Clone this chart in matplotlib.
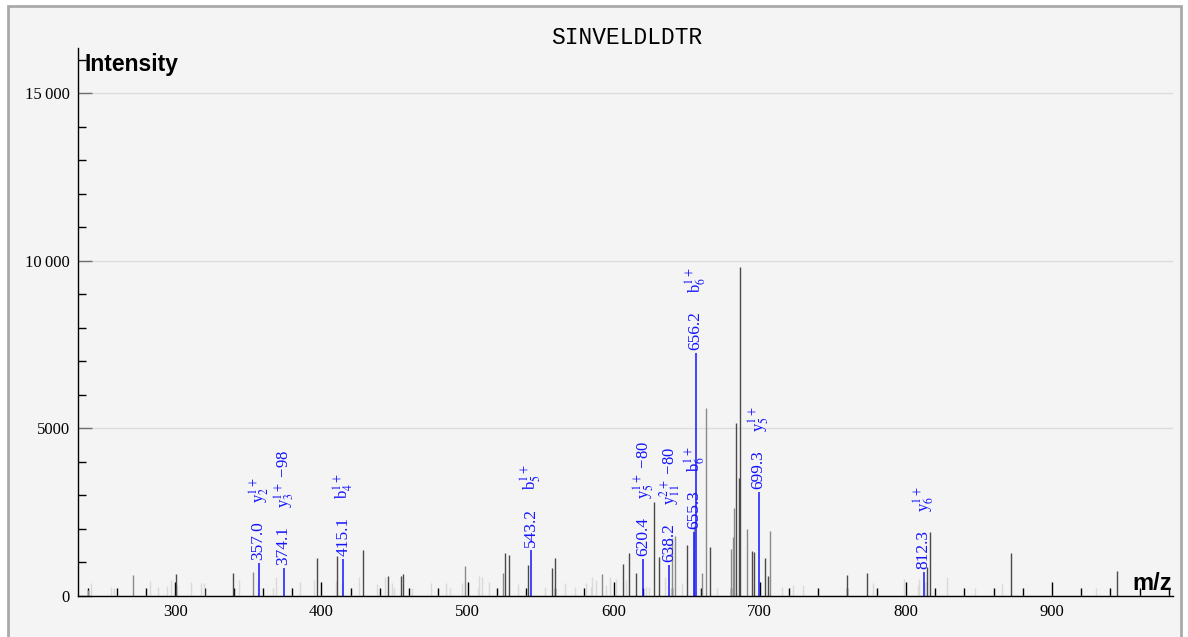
import numpy as np
import matplotlib
matplotlib.use('Agg')
import matplotlib.pyplot as plt
from matplotlib.patches import Rectangle
from matplotlib.ticker import MultipleLocator, FixedLocator

plt.rcParams['font.family'] = ['Liberation Serif', 'DejaVu Serif']
plt.rcParams['mathtext.fontset'] = 'stix'

# peaks (m/z, intensity)
dark_mz = [300.2, 339.2, 397.3, 410.9, 428.3, 445.5, 454.3, 456.1, 525.5, 528.3,
           541.1, 557.9, 559.7, 606.4, 610.8, 615.6, 627.9, 631.0, 650.2, 665.9,
           684.0, 685.6, 686.5, 694.6, 696.4, 703.8, 705.6, 759.7, 773.4, 814.2,
           816.5, 872.3, 944.3]
dark_int = [660, 680, 1140, 1190, 1370, 600, 600, 650, 1270, 1220,
            925, 825, 1125, 955, 1270, 680, 2800, 1155, 1520, 1470,
            5150, 3510, 9810, 1340, 1300, 1120, 600, 630, 700, 855,
            1900, 1270, 750]

mid_mz = [240.5, 271.3, 353.1, 498.0, 524.4, 591.9, 640.2, 641.8, 654.8, 660.5,
          663.4, 680.3, 681.7, 682.4, 691.5, 706.7]
mid_int = [180, 620, 730, 895, 680, 660, 1720, 1790, 2100, 700,
           5600, 1400, 1750, 2640, 1990, 1940]

light_mz = [242.0, 256.0, 258.0, 283.0, 288.4, 294.0, 297.0, 301.0, 311.0, 317.3,
            319.8, 343.3, 356.3, 367.2, 369.0, 385.0, 395.0, 410.0, 413.9, 426.0,
            437.9, 443.8, 448.0, 449.9, 461.8, 474.8, 485.0, 488.0, 496.0, 507.0,
            508.0, 509.6, 514.8, 534.6, 552.7, 566.6, 573.4, 581.4, 584.2, 585.0,
            587.8, 595.1, 597.8, 601.4, 608.7, 622.4, 624.2, 634.9, 647.0, 671.0,
            715.4, 722.6, 729.4, 777.3, 799.0, 808.1, 809.2, 813.1, 828.2, 847.3,
            865.7, 930.0]
light_int = [400, 280, 250, 450, 270, 300, 480, 330, 410, 400,
             400, 480, 430, 230, 560, 410, 480, 440, 380, 570,
             360, 570, 380, 250, 230, 380, 400, 230, 400, 230,
             600, 560, 420, 350, 280, 380, 280, 380, 280, 560,
             480, 330, 580, 500, 480, 280, 260, 580, 400, 250,
             280, 330, 330, 400, 500, 330, 500, 430, 560, 230,
             360, 230]

ion_mz = [357.0, 374.1, 415.1, 543.2, 620.4, 638.2, 655.3, 656.2, 699.3, 812.3]
ion_int = [990, 830, 1100, 1380, 1100, 930, 1900, 7260, 3110, 730]
ion_labels = ['y$_2^{1+}$', 'y$_3^{1+}$ \u221298', 'b$_4^{1+}$', 'b$_5^{1+}$',
              'y$_5^{1+}$ \u221280', 'y$_{11}^{2+}$ \u221280', 'b$_6^{1+}$',
              'b$_6^{1+}$', 'y$_5^{1+}$', 'y$_6^{1+}$']

W, H = 1188, 637
fig = plt.figure(figsize=(W / 100, H / 100), dpi=100, facecolor='white')
fig.patches.append(Rectangle((8 / W, -0.05), (1181 - 8) / W, 1 - 6 / H + 0.05,
                             transform=fig.transFigure, facecolor='#f4f4f4',
                             edgecolor='#a9a9a9', lw=2, zorder=-10))

ax = fig.add_axes([78 / W, 41 / H, 1094.5 / W, 548 / H])
ax.set_zorder(5)
ax.set_facecolor('none')
ax.set_xlim(233.4, 982.5)
ax.set_ylim(0, 16350)

ax.vlines(light_mz, 0, light_int, colors='#dadada', lw=1)
ax.vlines(mid_mz, 0, mid_int, colors='#8a8a8a', lw=1)
ax.vlines(dark_mz, 0, dark_int, colors='#4a4a4a', lw=1)
ax.vlines(ion_mz, 0, ion_int, colors='#1414ff', lw=1.1)

for mz, inten, lab in zip(ion_mz, ion_int, ion_labels):
    ax.annotate(f'{mz:.1f}', xy=(mz, inten), xytext=(0, 3), textcoords='offset pixels',
                rotation=90, rotation_mode='anchor', ha='left', va='center',
                color='#1414ff', fontsize=12.5)
    ax.annotate(lab, xy=(mz, inten), xytext=(0, 60), textcoords='offset pixels',
                rotation=90, rotation_mode='anchor', ha='left', va='center',
                color='#1414ff', fontsize=12)

for s in ['top', 'right']:
    ax.spines[s].set_visible(False)
for s in ['left', 'bottom']:
    ax.spines[s].set_color('black')
    ax.spines[s].set_linewidth(1)

ax.xaxis.set_major_locator(FixedLocator([300, 400, 500, 600, 700, 800, 900]))
ax.xaxis.set_minor_locator(MultipleLocator(20))
ax.yaxis.set_major_locator(FixedLocator([0, 5000, 10000, 15000]))
ax.yaxis.set_minor_locator(MultipleLocator(1000))
ax.set_yticklabels(['0', '5000', '10\u2009000', '15\u2009000'])
ax.tick_params(axis='x', which='major', direction='in', length=10, width=1,
               color='black', labelsize=12, pad=6)
ax.tick_params(axis='x', which='minor', direction='in', length=6, width=1, color='black')
ax.tick_params(axis='y', which='major', direction='in', length=10, width=1,
               color='#707070', labelsize=12, pad=6)
ax.tick_params(axis='y', which='minor', direction='in', length=6, width=1, color='black')
ax.grid(axis='y', which='major', color='#dcdcdc', lw=1)
ax.set_axisbelow(True)

fig.text(627 / W, 1 - 37 / H, 'SINVELDLDTR', family='Liberation Mono', fontsize=16.5,
         ha='center', va='center')
fig.text(85 / W, 1 - 64 / H, 'Intensity', family='Liberation Sans', weight='bold',
         fontsize=16.5, ha='left', va='center')
fig.text(1172 / W, 1 - 583 / H, 'm/z', family='Liberation Sans', weight='bold',
         fontsize=17, ha='right', va='center')

fig.savefig('out.png', dpi=100, facecolor='white')
